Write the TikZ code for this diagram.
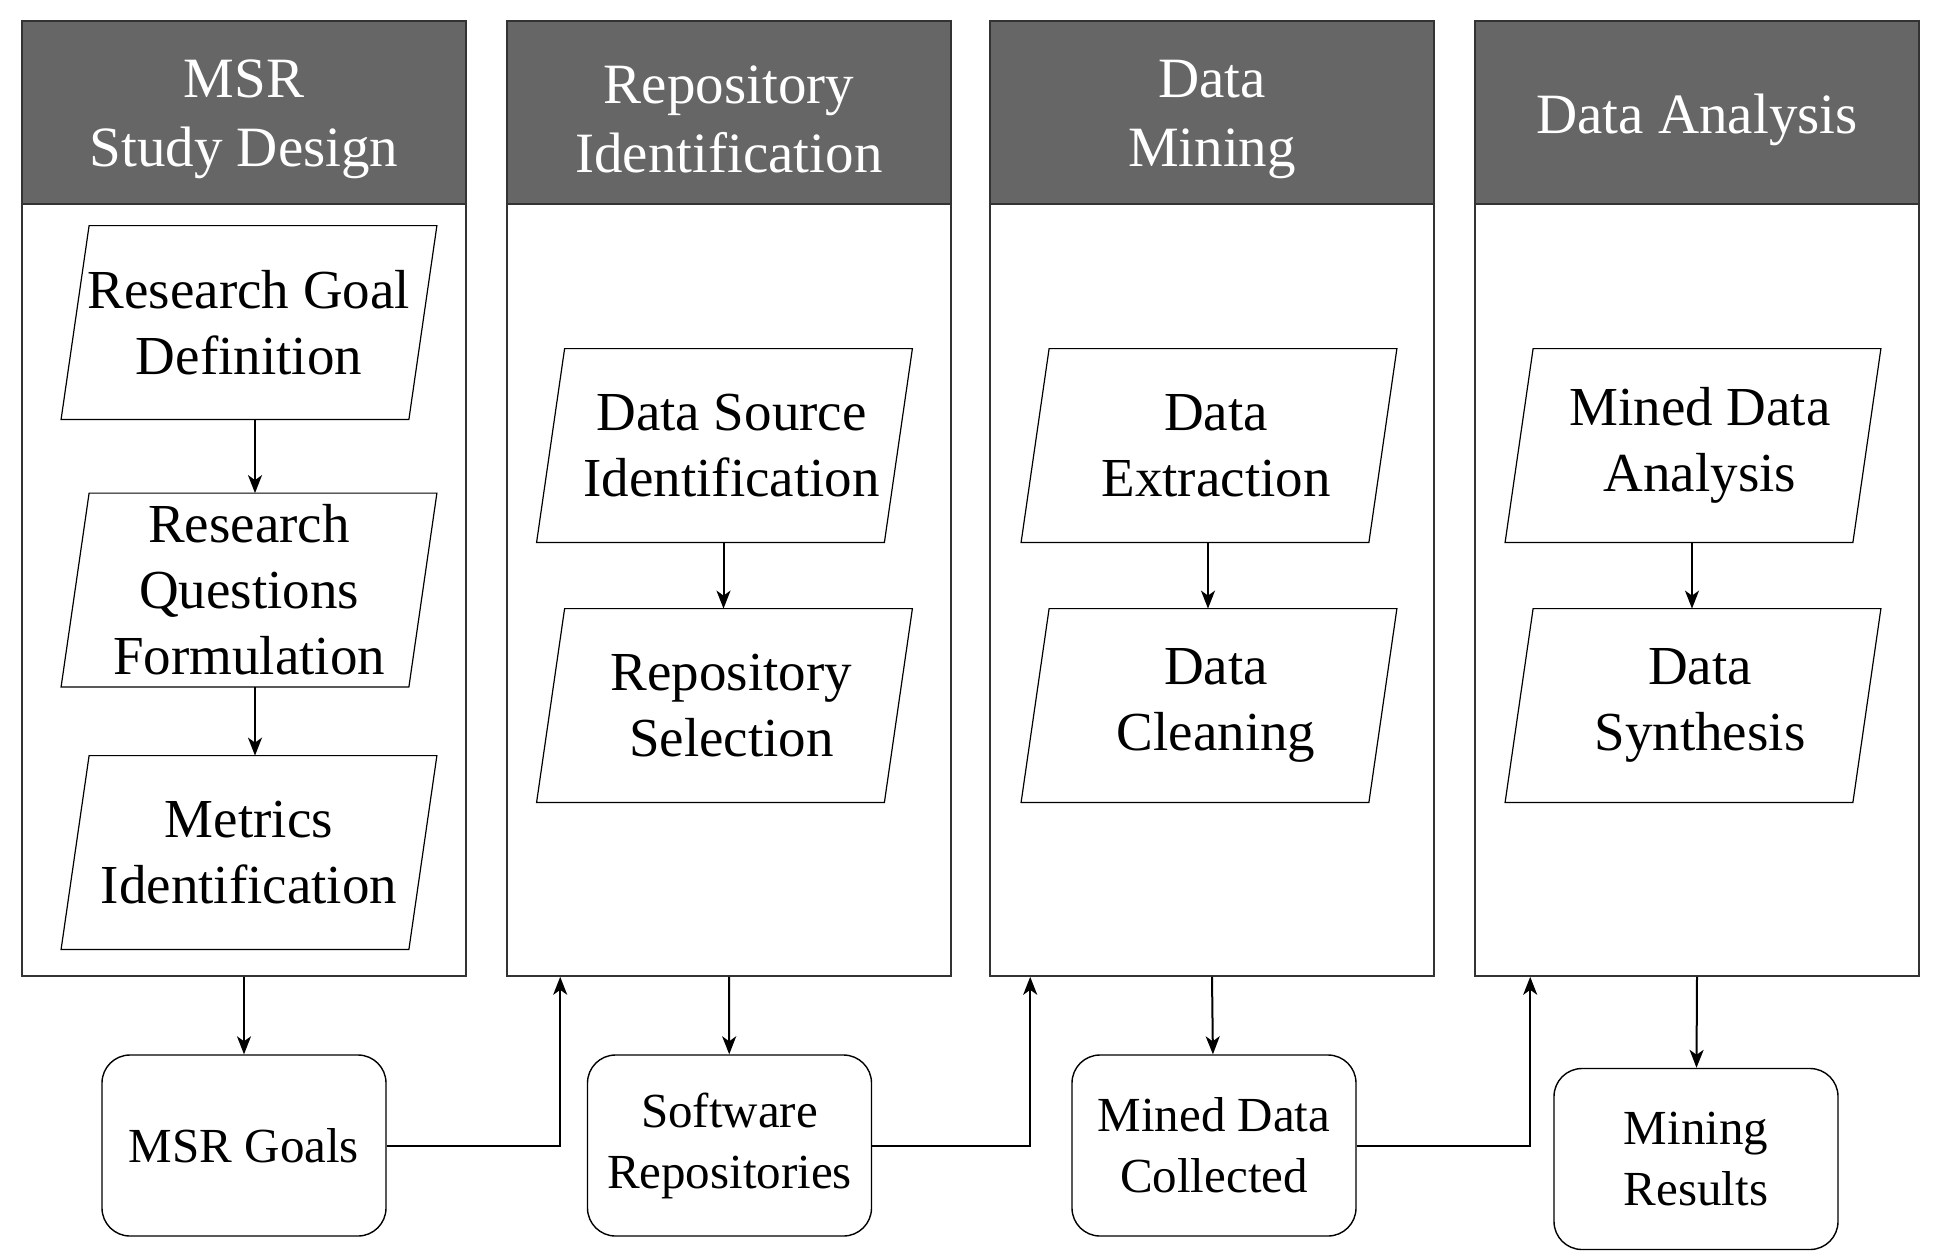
\documentclass[tikz,border=0pt]{standalone}
\usepackage{fontspec}
\setmainfont{Liberation Serif}
\usetikzlibrary{positioning}
\usetikzlibrary{arrows.meta}

\begin{document}
\begin{tikzpicture}[x=0.5pt, y=-0.5pt,
    lane/.style={draw=black!80, line width=0.8pt, minimum width=222pt, minimum height=477.5pt, inner sep=0pt},
    head/.style={draw=black!80, fill=black!60, line width=0.8pt, minimum width=222pt, minimum height=91.5pt, inner sep=0pt},
    title/.style={text=white, align=center, font=\fontsize{28.5}{34.5}\selectfont, yshift=-3.5pt},
    task/.style={minimum width=173.5pt, minimum height=96.5pt, inner sep=0pt, align=center, font=\fontsize{27.5}{33}\selectfont,
        append after command={\pgfextra{\draw[line width=0.6pt]
            ([xshift=7pt+#1]\tikzlastnode.north west) -- ([xshift=7pt+#1]\tikzlastnode.north east) --
            ([xshift=-7pt+#1]\tikzlastnode.south east) -- ([xshift=-7pt+#1]\tikzlastnode.south west) -- cycle;}}},
    task/.default=0pt,
    result/.style={draw, rounded corners=14pt, line width=0.7pt, minimum width=142pt, minimum height=90.5pt, align=center, font=\fontsize{24.5}{30.5}\selectfont},
    flow/.style={-{Stealth[length=9pt,width=7pt,inset=2.5pt]}, line width=1pt}]

    \useasboundingbox (0,0) rectangle (1939,1254);

    % the four lanes
    \node[lane] (lane1) at (244,498.5) {};
    \node[lane] (lane2) at (729,498.5) {};
    \node[lane] (lane3) at (1212,498.5) {};
    \node[lane] (lane4) at (1697,498.5) {};
    \node[head] (head1) at (244,112.5) {};
    \node[head] (head2) at (729,112.5) {};
    \node[head] (head3) at (1212,112.5) {};
    \node[head] (head4) at (1697,112.5) {};
    \node[title] (title1) at (head1) {MSR\\Study Design};
    \node[title] (title2) at (head2) {Repository\\Identification};
    \node[title] (title3) at (head3) {Data\\Mining};
    \node[title] (title4) at (head4) {Data Analysis};

    % steps
    \node[task] (goaldef) at (249,322.5) {Research Goal\\Definition};
    \node[task] (rqform) at (249,590) {Research\\Questions\\Formulation};
    \node[task] (metrics) at (249,852.5) {Metrics\\Identification};
    \node[task=-3.5pt] (srcid) at (731.5,445.5) {Data Source\\Identification};
    \node[task=-3.5pt] (reposel) at (731.5,705.5) {Repository\\Selection};
    \node[task=-3.5pt] (extract) at (1216,445.5) {Data\\Extraction};
    \node[task=-3.5pt] (clean) at (1216,705.5) {Data\\Cleaning};
    \node[task=-3.5pt] (analyse) at (1700,445.5) {Mined Data\\Analysis};
    \node[task=-3.5pt] (synth) at (1700,705.5) {Data\\Synthesis};

    \draw[flow] ([xshift=3pt]goaldef.south) -- ([xshift=3pt]rqform.north);
    \draw[flow] ([xshift=3pt]rqform.south) -- ([xshift=3pt]metrics.north);
    \draw[flow] ([xshift=-4pt]srcid.south) -- ([xshift=-4pt]reposel.north);
    \draw[flow] ([xshift=-4pt]extract.south) -- ([xshift=-4pt]clean.north);
    \draw[flow] ([xshift=-4pt]analyse.south) -- ([xshift=-4pt]synth.north);

    % outputs
    \node[result] (goals) at (244,1145.5) {MSR Goals};
    \node[result] (repos) at (729.5,1145.5) {Software\\Repositories};
    \node[result] (mined) at (1214,1145.5) {Mined Data\\Collected};
    \node[result] (mres) at (1696,1159) {Mining\\Results};

    \draw[flow] (lane1.south) -- (goals);
    \draw[flow] (lane2.south) -- (repos);
    \draw[flow] (lane3.south) -- (mined);
    \draw[flow] (lane4.south) -- (mres);
    \draw[flow] (goals.east) -| ([xshift=27pt]lane2.south west);
    \draw[flow] (repos.east) -| ([xshift=20.5pt]lane3.south west);
    \draw[flow] (mined.east) -| ([xshift=28pt]lane4.south west);
\end{tikzpicture}
\end{document}
